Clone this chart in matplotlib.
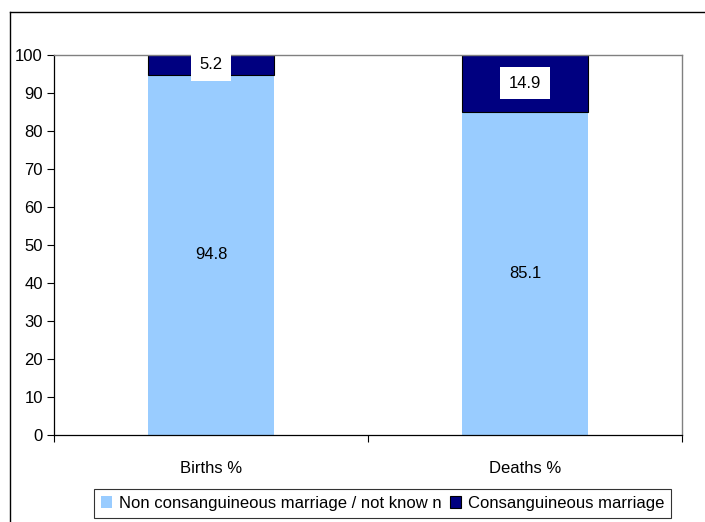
import matplotlib
matplotlib.use("Agg")
import matplotlib.pyplot as plt
from matplotlib.lines import Line2D
from matplotlib.ticker import FixedLocator, NullFormatter

plt.rcParams['font.family'] = ['Liberation Sans', 'DejaVu Sans']

categories = ["Births %", "Deaths %"]
non_consanguineous = [94.8, 85.1]
consanguineous = [5.2, 14.9]
series_names = ["Non consanguineous marriage / not know n", "Consanguineous marriage"]
y_ticks = [0, 10, 20, 30, 40, 50, 60, 70, 80, 90, 100]

light_blue = "#99CCFF"
navy = "#000080"
fs = 12

fig = plt.figure(figsize=(7.05, 5.22), dpi=100)
ax = fig.add_axes([54 / 705, 1 - 435 / 522, (682 - 54) / 705, (435 - 55) / 522])

x = list(range(len(categories)))
width = 0.4
b1 = ax.bar(x, non_consanguineous, width, color=light_blue, edgecolor="none",
            label=series_names[0], zorder=2)
b2 = ax.bar(x, consanguineous, width, bottom=non_consanguineous, color=navy,
            edgecolor="black", linewidth=0.8, label=series_names[1], zorder=2)

for xi, v in zip(x, non_consanguineous):
    ax.text(xi, v / 2, f"{v:.1f}", ha="center", va="center", fontsize=fs, zorder=3)
for xi, base, v in zip(x, non_consanguineous, consanguineous):
    ax.text(xi, base + v / 2, f"{v:.1f}", ha="center", va="center", fontsize=fs, zorder=4,
            bbox=dict(boxstyle="square,pad=0.5", facecolor="white", edgecolor="none"))

ax.set_xlim(-0.5, len(categories) - 0.5)
ax.set_ylim(0, 100)
ax.set_yticks(y_ticks)
ax.tick_params(axis="y", labelsize=fs, length=5, width=0.8, direction="out", pad=3)

ax.xaxis.set_major_locator(FixedLocator([-0.5, 0.5, 1.5]))
ax.xaxis.set_major_formatter(NullFormatter())
ax.set_xticks(x, minor=True)
ax.set_xticklabels(categories, minor=True)
ax.tick_params(axis="x", which="major", length=5, width=0.8, direction="out")
ax.tick_params(axis="x", which="minor", length=0, labelsize=fs, pad=19)

for side in ("left", "bottom"):
    ax.spines[side].set_color("black")
    ax.spines[side].set_linewidth(0.9)
for side in ("top", "right"):
    ax.spines[side].set_color("#808080")
    ax.spines[side].set_linewidth(1.0)

# figure frame: top and left edges
fig.add_artist(Line2D([10 / 705, 1.0], [1 - 12 / 522, 1 - 12 / 522], color="black",
                      linewidth=1.0, transform=fig.transFigure))
fig.add_artist(Line2D([10 / 705, 10 / 705], [0.0, 1 - 12 / 522], color="black",
                      linewidth=1.0, transform=fig.transFigure))

leg = fig.legend(handles=[b1, b2], labels=series_names, loc="center",
                 bbox_to_anchor=(382.5 / 705, 1 - 503.5 / 522), ncol=2, fontsize=fs,
                 frameon=True, fancybox=False, edgecolor="black", handlelength=0.7,
                 handleheight=0.7, handletextpad=0.4, columnspacing=0.5,
                 borderpad=0.4, borderaxespad=0)
leg.get_frame().set_linewidth(0.8)

fig.savefig("out.png", dpi=100)
